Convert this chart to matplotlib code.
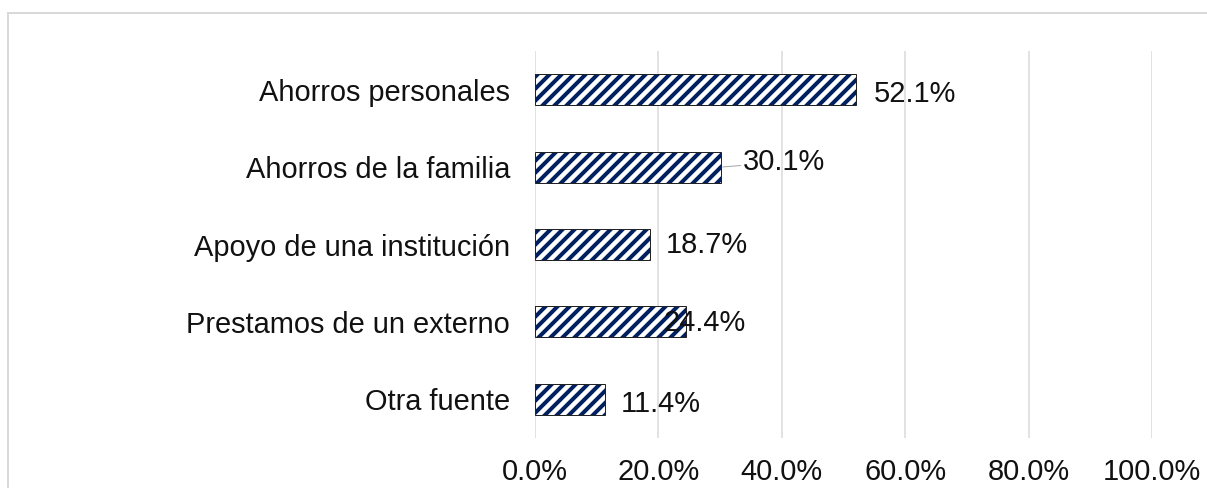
import matplotlib.pyplot as plt
import matplotlib.ticker as ticker
from matplotlib.lines import Line2D

categories = ["Ahorros personales", "Ahorros de la familia", "Apoyo de una institución",
              "Prestamos de un externo", "Otra fuente"]
values = [0.521, 0.301, 0.187, 0.244, 0.114]
xticks = [0.0, 0.2, 0.4, 0.6, 0.8, 1.0]

# label offsets in points (dx, dy) from bar end
label_offsets = [(17, -4), (22, 5), (15, 0), (-22, -1), (15, -5)]

NAVY = "#002060"
DPI = 72

plt.rcParams["font.family"] = ["Liberation Sans", "DejaVu Sans"]
plt.rcParams["hatch.linewidth"] = 4.0

fig = plt.figure(figsize=(1207 / DPI, 488 / DPI), dpi=DPI)
W, H = 1207, 488
ax = fig.add_axes([535 / W, 1 - 438 / H, (1152 - 535) / W, (438 - 51) / H])

# chart frame
fig.add_artist(Line2D([8 / W, 1.0], [1 - 13 / H, 1 - 13 / H], color="#d9d9d9", lw=2))
fig.add_artist(Line2D([8 / W, 8 / W], [0, 1 - 13 / H], color="#d9d9d9", lw=2))

y = list(range(len(categories)))
ax.barh(y, values, height=0.4, color="white", edgecolor=NAVY, hatch="//", linewidth=0, zorder=2)
ax.barh(y, values, height=0.4, fill=False, edgecolor="#222222", linewidth=1, zorder=3)

for i, (v, (dx, dy)) in enumerate(zip(values, label_offsets)):
    props = None
    if i == 1:
        props = dict(arrowstyle="-", color="#a6a6a6", lw=1, shrinkA=0, shrinkB=2)
    ax.annotate(f"{v * 100:.1f}%", xy=(v, i), xytext=(dx, dy), textcoords="offset points",
                ha="left", va="center", fontsize=29, color="#111111", zorder=4,
                arrowprops=props)

ax.set_xlim(0, 1)
ax.set_ylim(len(categories) - 0.5, -0.5)
ax.set_xticks(xticks)
ax.xaxis.set_major_formatter(ticker.PercentFormatter(1.0, decimals=1))
ax.set_yticks(y)
ax.set_yticklabels(categories)
ax.grid(axis="x", color="#d9d9d9", linewidth=1.5, zorder=0)
ax.set_axisbelow(True)
for s in ax.spines.values():
    s.set_visible(False)
ax.tick_params(axis="x", length=0, pad=20, labelsize=29, labelcolor="#111111")
ax.tick_params(axis="y", length=0, pad=25, labelsize=29, labelcolor="#111111")

fig.savefig("out.png", dpi=DPI)
